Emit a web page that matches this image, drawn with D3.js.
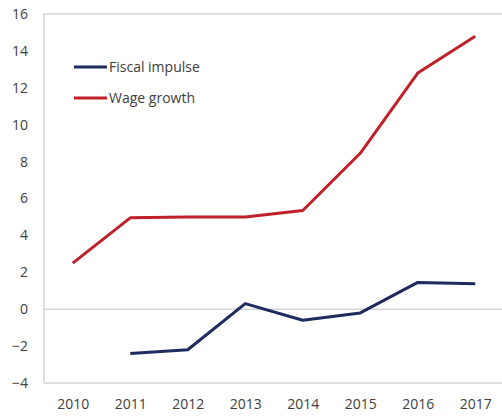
<!DOCTYPE html>
<html>
<head>
<meta charset="utf-8">
<script src="https://cdn.jsdelivr.net/npm/d3@7"></script>
<style>
    body { margin: 0; background: #fff; }
    text { font-family: "Open Sans", "Noto Sans", sans-serif; fill: #404040; }
</style>
</head>
<body>
<div id="chart"></div>
<script>
var years = ["2010", "2011", "2012", "2013", "2014", "2015", "2016", "2017"];
var fiscalImpulse = [null, -2.4, -2.2, 0.3, -0.6, -0.2, 1.45, 1.38];
var wageGrowth = [2.5, 4.95, 5.0, 5.0, 5.35, 8.45, 12.8, 14.8];
var yTicks = [-4, -2, 0, 2, 4, 6, 8, 10, 12, 14, 16];
var seriesNames = ["Fiscal impulse", "Wage growth"];
var seriesColors = ["#1f2a5e", "#c0202a"];

var margin = { top: 14, right: -2, bottom: 34, left: 44 },
    width = 502 - margin.left - margin.right,
    height = 417 - margin.top - margin.bottom;

var svg = d3.select("#chart")
    .append("svg")
    .attr("width", 502)
    .attr("height", 417)
    .append("g")
    .attr("transform", "translate(" + margin.left + "," + margin.top + ")");

var x = d3.scalePoint()
    .domain(years)
    .range([0, width])
    .padding(0.5);

var y = d3.scaleLinear()
    .domain([-4, 16])
    .range([height, 0]);

// frame (left, top, bottom)
svg.append("path")
    .attr("d", "M" + (width + 10) + ",0H0V" + height + "H" + (width + 10))
    .attr("fill", "none")
    .attr("stroke", "#bfbfbf")
    .attr("stroke-width", 1);

// zero line
svg.append("line")
    .attr("x1", 0).attr("x2", width + 10)
    .attr("y1", y(0)).attr("y2", y(0))
    .attr("stroke", "#bfbfbf")
    .attr("stroke-width", 1);

// y axis labels
var yAxis = svg.append("g")
    .call(d3.axisLeft(y).tickValues(yTicks).tickSize(0).tickPadding(16));
yAxis.select(".domain").remove();
yAxis.selectAll("text")
    .style("font-size", "14px")
    .style("font-family", null)
    .attr("fill", null);

// x axis labels
var xAxis = svg.append("g")
    .attr("transform", "translate(0," + height + ")")
    .call(d3.axisBottom(x).tickSize(0).tickPadding(16));
xAxis.select(".domain").remove();
xAxis.selectAll("text")
    .style("font-size", "14px")
    .style("font-family", null)
    .attr("fill", null);

var line = d3.line()
    .defined(function(d) { return d != null; })
    .x(function(d, i) { return x(years[i]); })
    .y(function(d) { return y(d); });

[fiscalImpulse, wageGrowth].forEach(function(values, k) {
    svg.append("path")
        .datum(values)
        .attr("fill", "none")
        .attr("stroke", seriesColors[k])
        .attr("stroke-width", 3)
        .attr("stroke-linejoin", "round")
        .attr("d", line);
});

// legend
var legend = svg.append("g")
    .attr("transform", "translate(30,53)");

seriesNames.forEach(function(name, k) {
    var row = legend.append("g")
        .attr("transform", "translate(0," + (k * 31) + ")");
    row.append("line")
        .attr("x1", 0).attr("x2", 33)
        .attr("stroke", seriesColors[k])
        .attr("stroke-width", 3);
    row.append("text")
        .attr("x", 35)
        .attr("dy", "0.35em")
        .style("font-size", "14px")
        .text(name);
});
</script>
</body>
</html>
